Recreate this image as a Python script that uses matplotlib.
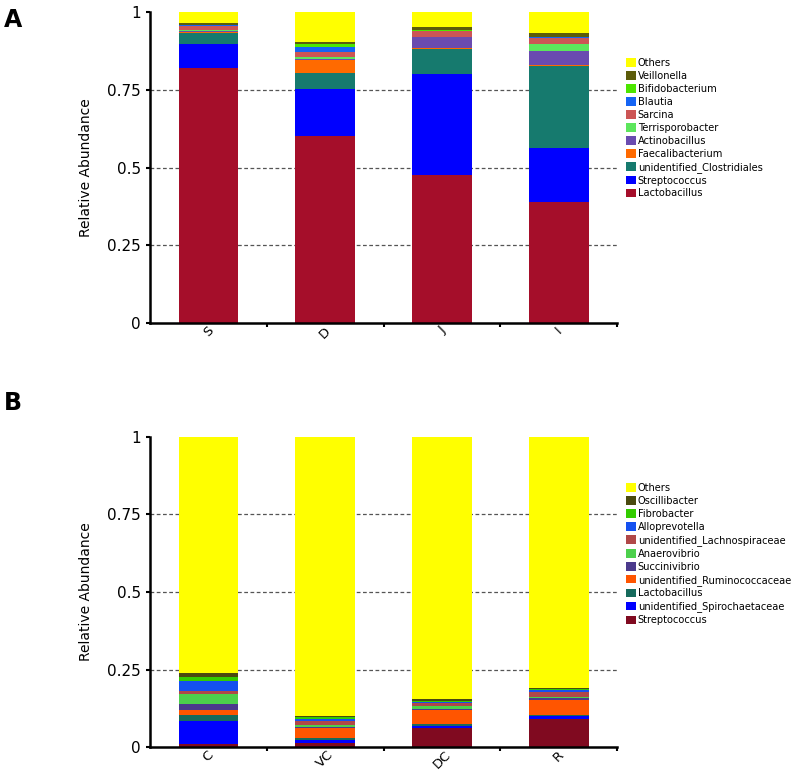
import numpy as np
import matplotlib.pyplot as plt
from matplotlib.patches import Patch
plt.switch_backend('Agg')

# Panel A data
groups_a = ['S', 'D', 'J', 'I']
taxa_a = ['Lactobacillus', 'Streptococcus', 'unidentified_Clostridiales', 'Faecalibacterium',
          'Actinobacillus', 'Terrisporobacter', 'Sarcina', 'Blautia', 'Bifidobacterium',
          'Veillonella', 'Others']
lactobacillus_a = [0.820, 0.600, 0.476, 0.389]
streptococcus_a = [0.077, 0.154, 0.324, 0.174]
clostridiales_a = [0.037, 0.050, 0.080, 0.262]
faecalibacterium_a = [0.002, 0.042, 0.003, 0.003]
actinobacillus_a = [0.002, 0.004, 0.035, 0.047]
terrisporobacter_a = [0.003, 0.005, 0.002, 0.022]
sarcina_a = [0.014, 0.016, 0.018, 0.020]
blautia_a = [0.002, 0.016, 0.001, 0.002]
bifidobacterium_a = [0.002, 0.010, 0.002, 0.002]
veillonella_a = [0.006, 0.007, 0.010, 0.010]
others_a = [0.035, 0.096, 0.049, 0.069]
colors_a = ['#a50e2a', '#0000ff', '#167a6e', '#ff6a00', '#6a4bb0', '#5ce65c',
            '#cc5555', '#1464f4', '#4ce600', '#5c5c0a', '#ffff00']

# Panel B data
groups_b = ['C', 'VC', 'DC', 'R']
taxa_b = ['Streptococcus', 'unidentified_Spirochaetaceae', 'Lactobacillus',
          'unidentified_Ruminococcaceae', 'Succinivibrio', 'Anaerovibrio',
          'unidentified_Lachnospiraceae', 'Alloprevotella', 'Fibrobacter',
          'Oscillibacter', 'Others']
streptococcus_b = [0.009, 0.013, 0.061, 0.092]
spirochaetaceae_b = [0.075, 0.011, 0.008, 0.008]
lactobacillus_b = [0.018, 0.004, 0.004, 0.002]
ruminococcaceae_b = [0.018, 0.033, 0.045, 0.050]
succinivibrio_b = [0.019, 0.005, 0.004, 0.005]
anaerovibrio_b = [0.032, 0.006, 0.009, 0.003]
lachnospiraceae_b = [0.011, 0.011, 0.011, 0.018]
alloprevotella_b = [0.030, 0.008, 0.004, 0.005]
fibrobacter_b = [0.013, 0.005, 0.004, 0.003]
oscillibacter_b = [0.013, 0.003, 0.006, 0.003]
others_b = [0.762, 0.901, 0.847, 0.811]
colors_b = ['#800a20', '#0000ff', '#166a5c', '#ff5500', '#4b3a8c', '#4cd04c',
            '#b04848', '#1450f0', '#33cc00', '#4a4a10', '#ffff00']

series_a = [lactobacillus_a, streptococcus_a, clostridiales_a, faecalibacterium_a,
            actinobacillus_a, terrisporobacter_a, sarcina_a, blautia_a,
            bifidobacterium_a, veillonella_a, others_a]
series_b = [streptococcus_b, spirochaetaceae_b, lactobacillus_b, ruminococcaceae_b,
            succinivibrio_b, anaerovibrio_b, lachnospiraceae_b, alloprevotella_b,
            fibrobacter_b, oscillibacter_b, others_b]

fig = plt.figure(figsize=(8, 7.73), dpi=100)
ax_a = fig.add_axes([0.1875, 0.582, 0.584, 0.4025])
ax_b = fig.add_axes([0.1875, 0.0336, 0.584, 0.4011])


def draw_panel(ax, groups, taxa, series, colors, legend_top):
    x = np.arange(len(groups))
    bottom = np.zeros(len(groups))
    for vals, col in zip(series, colors):
        ax.bar(x, vals, width=0.51, bottom=bottom, color=col, zorder=2)
        bottom += np.array(vals)
    for yv in [0.25, 0.5, 0.75]:
        ax.axhline(yv, color='#555555', linestyle=(0, (3, 2)), linewidth=0.9, zorder=1)
    ax.set_xlim(-0.5, 3.5)
    ax.set_ylim(0, 1)
    ax.set_yticks([0, 0.25, 0.5, 0.75, 1])
    ax.set_yticklabels(['0', '0.25', '0.5', '0.75', '1'], fontsize=11)
    ax.set_xticks(x)
    ax.set_xticklabels(groups, rotation=45, fontsize=9.5, ha='center')
    ax.set_xticks([0.5, 1.5, 2.5, 3.5], minor=True)
    ax.tick_params(axis='x', which='major', length=0, pad=1)
    ax.tick_params(axis='x', which='minor', length=3, width=1.5, direction='out')
    ax.tick_params(axis='y', length=3, width=1.5, direction='out')
    ax.set_ylabel('Relative Abundance', fontsize=10, labelpad=10)
    for s in ['top', 'right']:
        ax.spines[s].set_visible(False)
    for s in ['left', 'bottom']:
        ax.spines[s].set_linewidth(1.8)
    handles = [Patch(facecolor=c, edgecolor='none') for c in colors][::-1]
    fig.legend(handles, taxa[::-1], loc='upper left',
               bbox_to_anchor=(0.783, legend_top), frameon=False, fontsize=7.1,
               handlelength=0.95, handleheight=0.95, handletextpad=0.2,
               labelspacing=0.3, borderpad=0, borderaxespad=0)


draw_panel(ax_a, groups_a, taxa_a, series_a, colors_a, 1 - 58 / 773)
draw_panel(ax_b, groups_b, taxa_b, series_b, colors_b, 1 - 483 / 773)

fig.text(0.005, 0.965, 'A', fontsize=17, fontweight='bold')
fig.text(0.005, 0.47, 'B', fontsize=17, fontweight='bold')

fig.savefig('out.png', dpi=100)
